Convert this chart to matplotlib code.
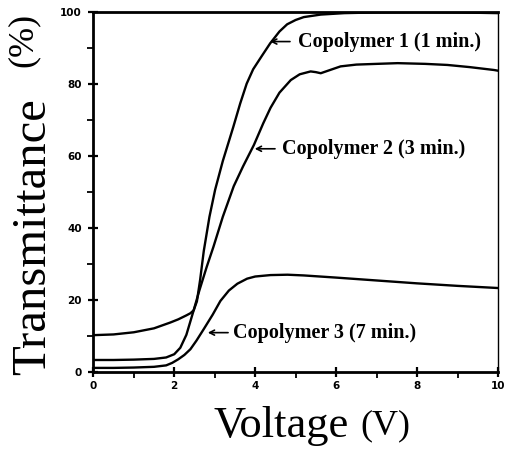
import matplotlib
matplotlib.use("Agg")
import matplotlib.pyplot as plt
from matplotlib.ticker import MultipleLocator

# values
v1 = [0, 0.5, 1.0, 1.5, 1.9, 2.1, 2.3, 2.4, 2.48, 2.56, 2.64, 2.73, 2.87, 3.01, 3.2,
      3.46, 3.63, 3.79, 3.95, 4.17, 4.37, 4.6, 4.79, 5.0, 5.2, 5.62, 6.2, 7, 8, 9, 10]
t1 = [10.1, 10.3, 10.9, 12.0, 13.6, 14.5, 15.6, 16.2, 17.0, 19.5, 25.5, 33.5, 43, 50.5, 58.5,
      68, 74.5, 80, 84, 87.8, 91.2, 94.5, 96.5, 97.7, 98.5, 99.2, 99.6, 99.8, 99.9, 99.8, 99.6]

v2 = [0, 0.5, 1.0, 1.5, 1.8, 2.0, 2.15, 2.3, 2.48, 2.62, 2.8, 2.97, 3.2, 3.47, 3.7,
      3.97, 4.2, 4.38, 4.6, 4.88, 5.1, 5.37, 5.5, 5.62, 5.8, 6.11, 6.5, 7.0, 7.52,
      8.2, 8.75, 9.3, 9.9, 10]
t2 = [3.2, 3.2, 3.3, 3.5, 3.9, 4.8, 6.6, 10.2, 17, 22.5, 29, 34.7, 43, 51.5, 57,
      63, 69, 73.3, 77.5, 81, 82.6, 83.4, 83.2, 82.9, 83.6, 84.8, 85.3, 85.5, 85.7,
      85.5, 85.2, 84.6, 83.8, 83.6]

v3 = [0, 0.5, 1.0, 1.5, 1.8, 1.95, 2.1, 2.25, 2.4, 2.55, 2.73, 2.95, 3.14, 3.35, 3.56,
      3.8, 4.0, 4.38, 4.8, 5.2, 6, 7, 8, 9, 10]
t3 = [1.0, 1.0, 1.1, 1.3, 1.7, 2.4, 3.4, 4.6, 6.2, 8.6, 11.8, 15.8, 19.6, 22.5, 24.4,
      25.8, 26.4, 26.8, 26.9, 26.7, 26.1, 25.3, 24.5, 23.8, 23.2]

labels = ["Copolymer 1 (1 min.)", "Copolymer 2 (3 min.)", "Copolymer 3 (7 min.)"]

W, H = 511, 459
fig = plt.figure(figsize=(W / 100, H / 100), dpi=100)
ax = fig.add_axes([93.3 / W, 1 - 371.5 / H, (498 - 93.3) / W, (371.5 - 11.7) / H])

for v, t in [(v1, t1), (v2, t2), (v3, t3)]:
    ax.plot(v, t, color="black", lw=1.7, solid_joinstyle="round")

ax.set_xlim(0, 10)
ax.set_ylim(0, 100)

ax.xaxis.set_major_locator(MultipleLocator(2))
ax.xaxis.set_minor_locator(MultipleLocator(1))
ax.yaxis.set_major_locator(MultipleLocator(20))
ax.yaxis.set_minor_locator(MultipleLocator(10))
ax.tick_params(which="major", direction="inout", length=7, width=1.6)
ax.tick_params(which="minor", direction="out", length=4, width=1.3)
ax.tick_params(axis="y", which="major", pad=4.8)
ax.tick_params(axis="x", which="major", pad=3.3)
for lab in ax.get_xticklabels() + ax.get_yticklabels():
    lab.set_fontsize(7.5)
    lab.set_fontweight("heavy")
    lab.set_family("DejaVu Sans")

for side in ["left", "bottom", "top"]:
    ax.spines[side].set_linewidth(2.0)
ax.spines["right"].set_linewidth(1.0)

# annotations with short arrows
ann = [((4.37, 91.7), 4.86, 5.06), ((3.99, 61.9), 4.49, 4.66), ((2.83, 10.8), 3.33, 3.45)]
for (tip, tail, tx), lab in zip(ann, labels):
    ax.annotate("", xy=tip, xytext=(tail, tip[1]),
                arrowprops=dict(arrowstyle="->,head_length=0.35,head_width=0.18",
                                lw=1.2, color="black", shrinkA=0, shrinkB=0))
    ax.text(tx, tip[1], lab, family="Liberation Serif", fontweight="bold",
            fontsize=14.5, ha="left", va="center")

# axis titles, serif, with smaller units in brackets
fig.text(213 / W, 1 - 437 / H, "Voltage", family="Liberation Serif",
         fontsize=32, ha="left", va="baseline")
fig.text(385 / W, 1 - 426 / H, "(V)", family="Liberation Serif",
         fontsize=26, ha="center", va="center")
fig.text(45 / W, 1 - 375 / H, "Transmittance", family="Liberation Serif",
         fontsize=35, rotation=90, rotation_mode="anchor", ha="left", va="baseline")
fig.text(23 / W, 1 - 40 / H, "(%)", family="Liberation Serif",
         fontsize=26, rotation=90, ha="center", va="center")

fig.savefig("out.png", dpi=100)
